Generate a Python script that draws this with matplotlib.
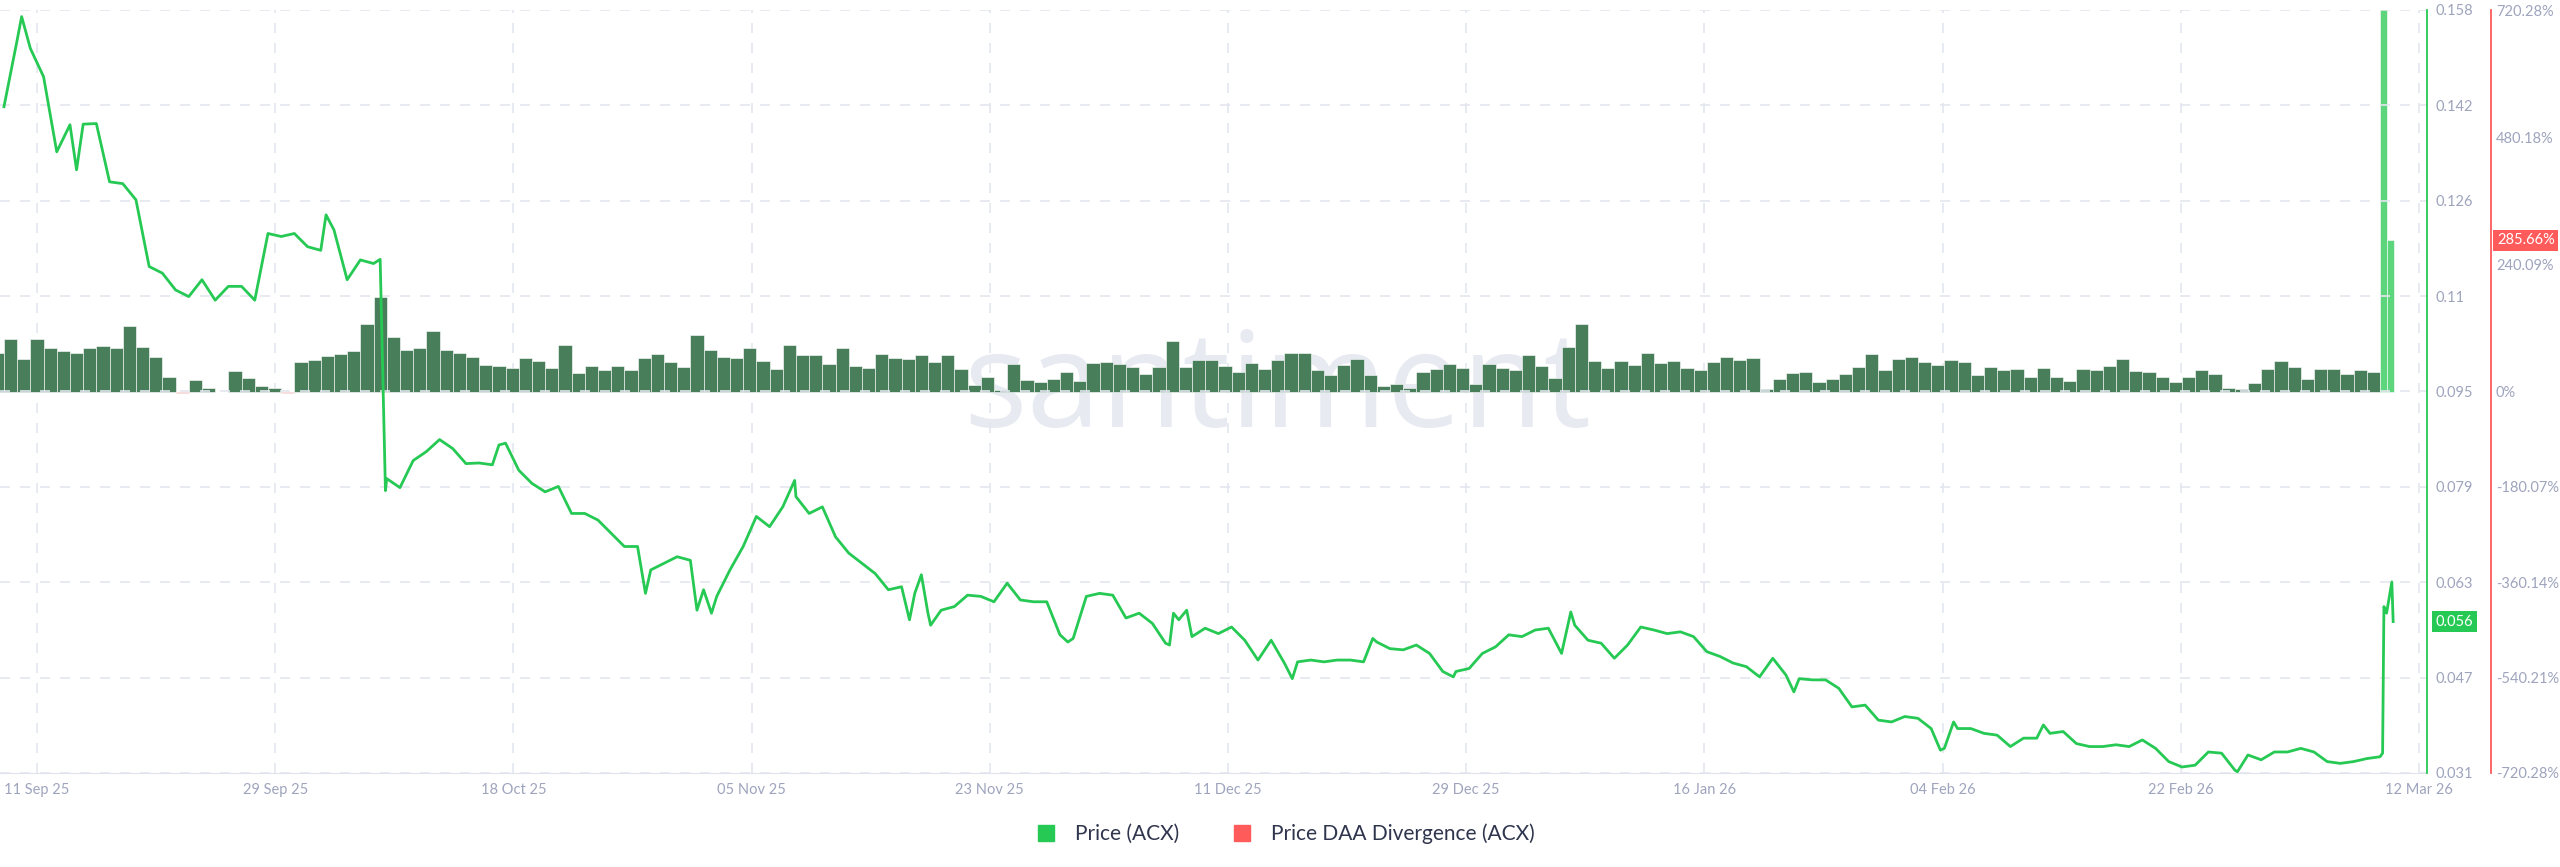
import numpy as np
import matplotlib.pyplot as plt

plt.rcParams['font.family'] = ['Lato', 'DejaVu Sans']

# day offsets are days since 2025-09-08 00:00
price_day = [0.5, 1.5, 1.84, 2.5, 3.5, 4.5, 5.5, 6.0, 6.5, 7.5, 8.5, 9.5, 10.5, 11.5, 12.5, 13.5,
             14.5, 15.5, 16.5, 17.5, 18.5, 19.5, 20.5, 21.5, 22.5, 23.5, 24.5, 24.9, 25.5, 26.5,
             27.5, 28.5, 29.0, 29.4, 29.5, 30.5, 31.5, 32.5, 33.5, 34.5, 35.5, 36.5, 37.5, 38.0,
             38.5, 39.5, 40.5, 41.5, 42.5, 43.5, 44.5, 45.5, 46.5, 47.5, 48.5, 49.1, 49.5, 50.5,
             51.5, 52.5, 53.0, 53.5, 54.1, 54.5, 55.5, 56.5, 57.5, 58.5, 59.5, 60.4, 60.5, 61.5,
             62.5, 63.5, 64.5, 65.5, 66.5, 67.5, 68.5, 69.1, 69.5, 70.0, 70.5, 70.7, 71.5, 72.5,
             73.5, 74.5, 75.5, 76.5, 77.5, 78.5, 79.5, 80.5, 81.1, 81.5, 82.5, 83.5, 84.5, 85.5,
             86.5, 87.5, 88.5, 88.8, 89.1, 89.5, 90.1, 90.5, 91.5, 92.5, 93.5, 94.5, 95.5, 96.5,
             97.5, 98.1, 98.5, 99.5, 100.5, 101.5, 102.5, 103.5, 104.2, 104.5, 105.5, 106.5,
             107.5, 108.5, 109.5, 110.3, 110.5, 111.5, 112.5, 113.5, 114.5, 115.5, 116.5, 117.5,
             118.5, 119.2, 119.5, 120.5, 121.5, 122.5, 123.5, 124.5, 125.5, 126.5, 127.5, 128.5,
             129.5, 130.5, 131.5, 132.5, 133.5, 134.5, 135.5, 136.1, 136.5, 137.5, 138.5, 139.5,
             140.5, 141.5, 142.5, 143.5, 144.5, 145.5, 146.5, 147.2, 147.5, 148.2, 148.5, 149.5,
             150.5, 151.5, 152.5, 153.5, 154.5, 155.0, 155.5, 156.5, 157.5, 158.5, 159.5, 160.5,
             161.5, 162.5, 163.5, 164.5, 165.5, 166.5, 167.5, 168.5, 169.5, 169.7, 170.5, 171.5,
             172.5, 173.5, 174.5, 175.5, 176.5, 177.5, 178.5, 179.5, 180.5, 180.7, 180.8, 181.0,
             181.4, 181.5]
price = [0.1419, 0.153, 0.1569, 0.1516, 0.1469, 0.1344, 0.1389, 0.1314, 0.139, 0.1391, 0.1294,
         0.1291, 0.1264, 0.1153, 0.1142, 0.1114, 0.1103, 0.1131, 0.1097, 0.112, 0.112, 0.1097,
         0.1208, 0.1203, 0.1208, 0.1186, 0.118, 0.1239, 0.1214, 0.1131, 0.1164, 0.1158, 0.1165,
         0.078, 0.080, 0.0785, 0.0830, 0.0845, 0.0865, 0.0850, 0.0825, 0.0826, 0.0823, 0.0856,
         0.0859, 0.0814, 0.0792, 0.0778, 0.0787, 0.0742, 0.0742, 0.0731, 0.0709, 0.0687, 0.0687,
         0.0609, 0.0648, 0.0659, 0.067, 0.0664, 0.0581, 0.0615, 0.0576, 0.0604, 0.0648, 0.0687,
         0.0737, 0.072, 0.0753, 0.0797, 0.077, 0.0742, 0.0753, 0.0703, 0.0676, 0.0659, 0.0642,
         0.0615, 0.062, 0.0565, 0.0609, 0.064, 0.0576, 0.0556, 0.0581, 0.0587, 0.0606, 0.0604,
         0.0595, 0.0626, 0.0598, 0.0595, 0.0595, 0.054, 0.0528, 0.0534, 0.0604, 0.0609, 0.0606,
         0.0568, 0.0576, 0.0559, 0.0526, 0.0523, 0.0576, 0.0565, 0.0581, 0.0537, 0.0551, 0.0542,
         0.0553, 0.0531, 0.0498, 0.0531, 0.0493, 0.0467, 0.0495, 0.0498, 0.0495, 0.0498, 0.0498,
         0.0495, 0.0534, 0.0528, 0.0517, 0.0515, 0.0523, 0.0509, 0.0479, 0.047, 0.0479, 0.0484,
         0.0509, 0.052, 0.054, 0.0537, 0.0548, 0.0551, 0.0509, 0.0578, 0.0556, 0.0531, 0.0526,
         0.0501, 0.0523, 0.0553, 0.0548, 0.0542, 0.0545, 0.0537, 0.0512, 0.0504, 0.0493, 0.0487,
         0.047, 0.0501, 0.0473, 0.0445, 0.0467, 0.0465, 0.0465, 0.0451, 0.042, 0.0423, 0.0398,
         0.0395, 0.0404, 0.0401, 0.0384, 0.0348, 0.0351, 0.0395, 0.0384, 0.0384, 0.0376, 0.0373,
         0.0354, 0.0368, 0.0368, 0.039, 0.0376, 0.0379, 0.0359, 0.0354, 0.0354, 0.0357, 0.0354,
         0.0365, 0.0351, 0.0329, 0.032, 0.0323, 0.0345, 0.0343, 0.0315, 0.0312, 0.034, 0.0332,
         0.0345, 0.0345, 0.0351, 0.0345, 0.0329, 0.0326, 0.0329, 0.0334, 0.0337, 0.0343, 0.0587,
         0.0576, 0.0628, 0.0562]

# daily Price DAA Divergence (%), bar j is centred on 2025-09-08 + j days
divergence = [73, 99, 62, 99, 82, 77, 72, 82, 85, 82, 123, 84, 65, 27, -3, 21, 7, -1, 38, 26,
              11, 6, -3, 56, 60, 67, 70, 77, 128, 179, 103, 79, 83, 115, 79, 72, 65, 50,
              49, 45, 63, 58, 45, 87, 34, 49, 40, 48, 40, 63, 71, 56, 46, 106, 79, 66, 64, 82,
              58, 43, 87, 69, 69, 52, 83, 48, 45, 71, 63, 62, 68, 56, 68, 43, 12,
              27, 3, 52, 21, 17, 23, 36, 19, 54, 56, 52, 46, 33, 46, 96, 46, 60, 59, 49, 36,
              54, 43, 60, 72, 72, 40, 31, 50, 62, 31, 10, 14, 7, 36, 42, 51, 45, 15,
              52, 45, 41, 68, 48, 26, 84, 127, 57, 45, 57, 50, 72, 54, 58, 44, 40, 55, 66, 60,
              63, 4, 23, 35, 37, 18, 24, 33, 47, 71, 41, 62, 65, 55, 50, 60, 55, 32,
              47, 41, 43, 27, 44, 27, 19, 42, 40, 49, 61, 38, 36, 28, 17, 28, 41, 33, 6, 4,
              16, 43, 57, 47, 23, 43, 43, 33, 40, 36,
              980, 285.66]
bar_width = [1.0] * (len(divergence) - 2) + [0.55, 0.55]

date_labels = ['11 Sep 25', '29 Sep 25', '18 Oct 25', '05 Nov 25', '23 Nov 25', '11 Dec 25',
               '29 Dec 25', '16 Jan 26', '04 Feb 26', '22 Feb 26', '12 Mar 26']
price_ticks = ['0.031', '0.047', '0.063', '0.079', '0.095', '0.11', '0.126', '0.142', '0.158']
pct_ticks = [-720.28, -540.21, -360.14, -180.07, 0, 240.09, 480.18, 720.28]

GREEN = '#26c953'
RED = '#ff5b5b'
TICK = '#9ea4bd'
GRID = '#e4e6ef'
PX = 72 / 100  # points per pixel
FS = 10.5

fig = plt.figure(figsize=(25.6, 8.67), dpi=100)
ax = fig.add_axes([0, 1 - 773 / 867, 2427 / 2560, (773 - 10) / 867])
axp = ax.twinx()

# bars (divergence) on the base axes, shown on the outer right axis
lefts = -0.5 + np.concatenate([[0], np.cumsum(bar_width[:-1])])
colors = []
for k, v in enumerate(divergence):
    if k >= len(divergence) - 2:
        colors.append('#5dd57c')
    elif v < 0:
        colors.append('#e06b6b')
    else:
        colors.append('#487f5a')
ax.bar(lefts, divergence, width=bar_width, align='edge', color=colors,
       edgecolor='white', linewidth=0.4, zorder=2)
ax.set_ylim(-720.28, 720.28)
ax.yaxis.tick_right()
ax.spines['right'].set_position(('outward', 64 * PX))
ax.spines['right'].set_color(RED)
ax.spines['right'].set_linewidth(1.3)
for s in ['top', 'left']:
    ax.spines[s].set_visible(False)
ax.spines['bottom'].set_color('#e0e3ec')
ax.set_yticks(pct_ticks)
ax.set_yticklabels(['%.2f%%' % v if v != 0 else '0%' for v in pct_ticks])
ax.tick_params(axis='y', length=0, pad=5 * PX, colors=TICK, labelsize=FS)

x_lo, x_hi = 0.2, 0.2 + 2427 / 13.2
ax.set_xlim(x_lo, x_hi)
tick_pos = np.linspace(3.0, 0.2 + 2419 / 13.2, len(date_labels))
ax.set_xticks(tick_pos)
ax.set_xticklabels(date_labels)
ax.tick_params(axis='x', length=0, pad=7, colors=TICK, labelsize=FS)
ax.grid(axis='x', color=GRID, linestyle=(0, (6, 6)), linewidth=1.2)
ax.set_axisbelow(True)

ax.text(97, 0, 'santiment', fontsize=96, color='#e8eaf2', ha='center', va='center',
        family='Open Sans', zorder=0)

# price line
axp.plot(price_day, price, color=GREEN, linewidth=2.0, zorder=3)
pmin, pmax = 0.031, 0.158
axp.set_ylim(pmin, pmax)
pt = np.linspace(pmin, pmax, len(price_ticks))
axp.set_yticks(pt)
axp.set_yticklabels(price_ticks)
axp.tick_params(axis='y', length=0, pad=8 * PX, colors=TICK, labelsize=FS)
axp.grid(axis='y', color=GRID, linestyle=(0, (6, 6)), linewidth=1.2)
axp.set_axisbelow(True)
axp.spines['right'].set_color(GREEN)
axp.spines['right'].set_linewidth(1.3)
for s in ['top', 'left', 'bottom']:
    axp.spines[s].set_visible(False)

axp.annotate('%.3f' % price[-1], xy=(1, price[-1]), xycoords=('axes fraction', 'data'),
             xytext=(9 * PX, 0), textcoords='offset points', ha='left', va='center',
             fontsize=FS, color='white',
             bbox=dict(boxstyle='square,pad=0.25', fc=GREEN, ec='none'))
ax.annotate('%.2f%%' % divergence[-1], xy=(1, divergence[-1]), xycoords=('axes fraction', 'data'),
            xytext=(70 * PX, 0), textcoords='offset points', ha='left', va='center',
            fontsize=FS, color='white',
            bbox=dict(boxstyle='square,pad=0.25', fc=RED, ec='none'))

# legend
h1 = plt.Line2D([], [], marker='s', linestyle='none', color=GREEN, markersize=11)
h2 = plt.Line2D([], [], marker='s', linestyle='none', color=RED, markersize=11)
fig.legend([h1, h2], ['Price (ACX)', 'Price DAA Divergence (ACX)'], loc='center',
           bbox_to_anchor=(0.5, 1 - 834 / 867), ncol=2, frameon=False, fontsize=15,
           labelcolor='#2f354d', handletextpad=0.4, columnspacing=2.0)

fig.savefig('out.png', dpi=100, facecolor='white')
